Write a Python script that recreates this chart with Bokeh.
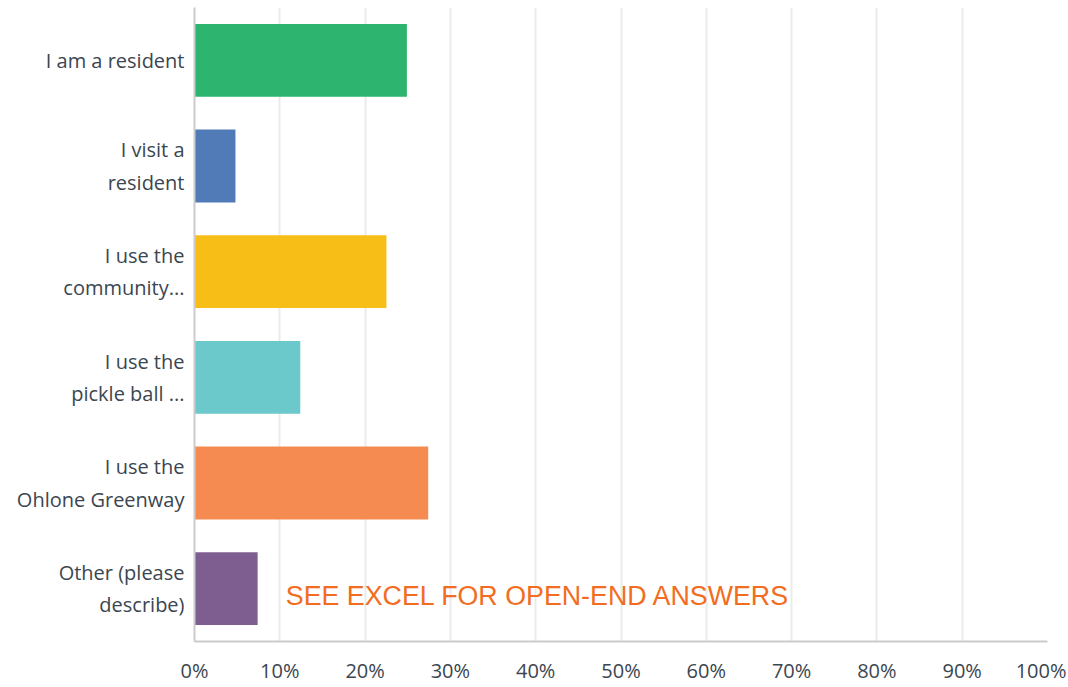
from bokeh.plotting import figure
from bokeh.models import FixedTicker, PrintfTickFormatter, Label, ColumnDataSource
from bokeh.embed import file_html
from bokeh.resources import INLINE

categories = ["I am a resident", "I visit a\nresident", "I use the\ncommunity...",
              "I use the\npickle ball ...", "I use the\nOhlone Greenway", "Other (please\ndescribe)"]
values = [24.9, 4.8, 22.5, 12.4, 27.4, 7.4]
colors = ["#2DB56F", "#507BB6", "#F7BE17", "#6BC9CB", "#F68B52", "#7E5E90"]
x_ticks = [0, 10, 20, 30, 40, 50, 60, 70, 80, 90, 100]
note = "SEE EXCEL FOR OPEN-END ANSWERS"

src = ColumnDataSource(dict(cat=categories, val=values, color=colors))
factors = list(reversed(categories))

p = figure(width=1066, height=686, y_range=factors, x_range=(0, 100),
           output_backend="svg", toolbar_location=None,
           min_border_left=194, min_border_right=19, min_border_top=7, min_border_bottom=42)
p.hbar(y="cat", right="val", left=0, height=0.69, color="color", source=src, line_color=None)

p.outline_line_color = None
p.ygrid.grid_line_color = None
p.xgrid.grid_line_color = "#E9ECEC"
p.xgrid.grid_line_width = 2

p.xaxis.ticker = FixedTicker(ticks=x_ticks)
p.xaxis.formatter = PrintfTickFormatter(format="%d%%")
for ax in (p.xaxis, p.yaxis):
    ax.axis_line_color = "#CBCBCB"
    ax.axis_line_width = 2
    ax.major_tick_line_color = None
    ax.minor_tick_line_color = None
    ax.major_tick_out = 0
    ax.major_tick_in = 0
    ax.major_label_text_font = "Open Sans"
    ax.major_label_text_font_size = "20px"
    ax.major_label_text_color = "#3B4650"
p.xaxis.major_label_standoff = 15
p.yaxis.major_label_standoff = 10

other_y = factors.index(categories[5]) + 0.5
p.add_layout(Label(x=10.7, y=other_y, y_offset=-7, text=note,
                   text_font="Liberation Sans", text_font_size="26.8px",
                   text_color="#F26D21", text_baseline="middle"))

open("out.html", "w").write(file_html(p, INLINE))
